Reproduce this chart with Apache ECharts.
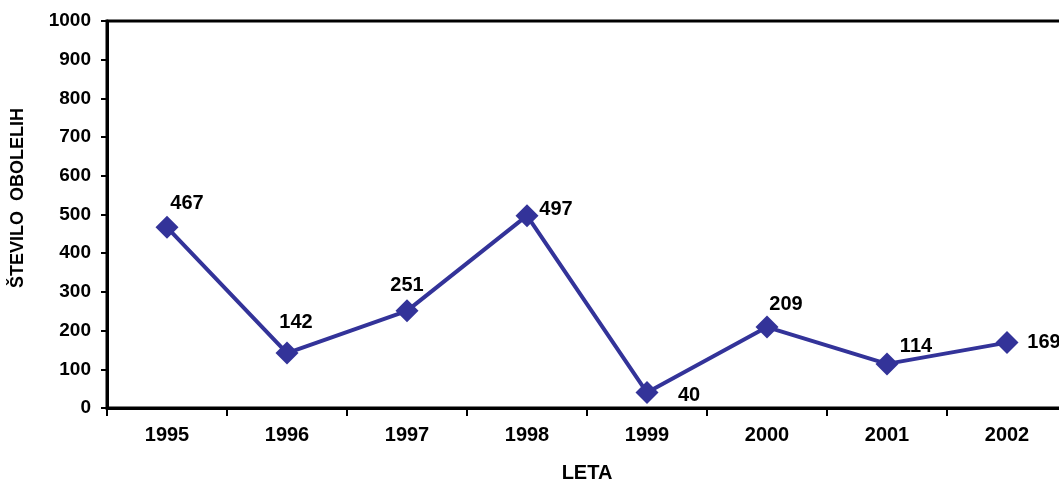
<!DOCTYPE html>
<html>
<head>
<meta charset="utf-8">
<script src="https://cdn.jsdelivr.net/npm/echarts@6/dist/echarts.min.js"></script>
<style>
  html, body { margin: 0; padding: 0; background: #fff; }
  #chart { width: 1059px; height: 482px; }
</style>
</head>
<body>
<div id="chart"></div>
<script>
// Number of cases per year
const years = ['1995', '1996', '1997', '1998', '1999', '2000', '2001', '2002'];
const cases = [467, 142, 251, 497, 40, 209, 114, 169];
const yTicks = [0, 100, 200, 300, 400, 500, 600, 700, 800, 900, 1000];

// Label offsets (px) from each marker centre, so labels sit clear of the line
const labelOffsets = [[20, -24], [9, -31], [0, -25], [29, -6], [42, 3], [19, -23], [29, -17], [37, 0]];

const FONT = '"Liberation Sans", Arial, sans-serif';
const LINE = '#333399';

const chart = echarts.init(document.getElementById('chart'), null, { renderer: 'canvas' });

chart.setOption({
  animation: false,
  backgroundColor: '#fff',
  grid: {
    left: 107, top: 21, right: -8, bottom: 74,
    outerBoundsMode: 'none',
    containLabel: false,
    show: true, borderColor: '#000', borderWidth: 3, backgroundColor: 'transparent'
  },
  xAxis: {
    type: 'category',
    data: years,
    boundaryGap: true,
    axisLine: { lineStyle: { color: '#000', width: 3 } },
    axisTick: { show: true, inside: false, length: 8, lineStyle: { color: '#000', width: 2 } },
    axisLabel: { color: '#000', fontFamily: FONT, fontWeight: 'bold', fontSize: 20, margin: 17 },
    splitLine: { show: false }
  },
  yAxis: {
    type: 'value',
    min: yTicks[0], max: yTicks[yTicks.length - 1], interval: yTicks[1] - yTicks[0],
    axisLine: { show: true, lineStyle: { color: '#000', width: 3 } },
    axisTick: { show: true, inside: false, length: 6, lineStyle: { color: '#000', width: 2 } },
    axisLabel: {
      color: '#000', fontFamily: FONT, fontWeight: 'bold', fontSize: 19, margin: 16,
      formatter: (v) => String(v)
    },
    splitLine: { show: false }
  },
  graphic: [
    {
      type: 'text', x: 18, y: 198, rotation: Math.PI / 2,
      style: {
        text: 'ŠTEVILO  OBOLELIH', fill: '#000', font: 'bold 18px ' + FONT,
        textAlign: 'center', textVerticalAlign: 'middle'
      }
    },
    {
      type: 'text', x: 587, y: 473,
      style: {
        text: 'LETA', fill: '#000', font: 'bold 20px ' + FONT,
        textAlign: 'center', textVerticalAlign: 'middle'
      }
    }
  ],
  series: [{
    type: 'line',
    data: cases.map((v, i) => ({
      value: v,
      label: { offset: labelOffsets[i] }
    })),
    symbol: 'diamond',
    symbolSize: 23,
    lineStyle: { color: LINE, width: 4 },
    itemStyle: { color: LINE },
    label: {
      show: true, position: 'inside', color: '#000',
      fontFamily: FONT, fontWeight: 'bold', fontSize: 20
    },
    z: 3
  }]
});
</script>
</body>
</html>
